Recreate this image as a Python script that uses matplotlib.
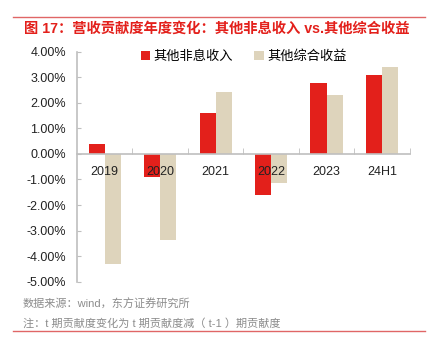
import matplotlib
matplotlib.use("Agg")
import matplotlib.pyplot as plt
from matplotlib.lines import Line2D
from matplotlib.ticker import FuncFormatter, FixedLocator

plt.rcParams['font.family'] = ['Liberation Sans', 'Noto Sans CJK SC', 'DejaVu Sans']

categories = ['2019', '2020', '2021', '2022', '2023', '24H1']
non_interest = [0.40, -0.90, 1.61, -1.61, 2.78, 3.07]
other_comp = [-4.30, -3.36, 2.43, -1.13, 2.30, 3.40]
series_names = ['其他非息收入', '其他综合收益']
yticks = [4, 3, 2, 1, 0, -1, -2, -3, -4, -5]

title = '图 17：营收贡献度年度变化：其他非息收入 vs.其他综合收益'
source = '数据来源：wind，东方证券研究所'
note = '注：t 期贡献度变化为 t 期贡献度减（ t-1 ）期贡献度'

RED = '#E3201B'
BEIGE = '#DED4BC'
GRAY = '#BFBFBF'

fig = plt.figure(figsize=(4.3, 3.38), dpi=100)
ax = fig.add_axes([0.179, 0.1666, 0.774, 0.6806])

x = list(range(len(categories)))
w = 0.29
ax.bar([i - w / 2 for i in x], non_interest, width=w, color=RED, label=series_names[0], zorder=2)
ax.bar([i + w / 2 for i in x], other_comp, width=w, color=BEIGE, label=series_names[1], zorder=2)
ax.set_axisbelow(False)

ax.set_xlim(-0.5, 5.5)
ax.set_ylim(-5, 4)
ax.set_yticks(yticks)
ax.yaxis.set_major_formatter(FuncFormatter(lambda v, p: f'{v:.2f}%'))
ax.tick_params(axis='y', direction='in', length=3, color=GRAY, labelsize=9, labelcolor='#222222', pad=8)

ax.spines['top'].set_visible(False)
ax.spines['right'].set_visible(False)
ax.spines['left'].set_color(GRAY)
ax.spines['left'].set_linewidth(1.2)
ax.spines['bottom'].set_position(('data', 0))
ax.spines['bottom'].set_color(GRAY)
ax.spines['bottom'].set_linewidth(1.2)

ax.set_xticks(x)
ax.set_xticklabels(categories)
ax.xaxis.set_minor_locator(FixedLocator([i + 0.5 for i in x]))
ax.tick_params(axis='x', which='major', length=0, labelsize=9, labelcolor='#222222', pad=9)
ax.tick_params(axis='x', which='minor', direction='in', length=4, color=GRAY)

leg = ax.legend(loc='center', bbox_to_anchor=(0.567, 0.832), bbox_transform=fig.transFigure,
                ncol=2, frameon=False, fontsize=9.5, handlelength=0.7, handleheight=0.7,
                handletextpad=0.3, columnspacing=1.6)

fig.add_artist(Line2D([0.030, 0.988], [1 - 17 / 338, 1 - 17 / 338], color='#E06666', lw=1.0))
fig.text(0.056, 1 - 29 / 338, title, color=RED, fontsize=10.3, fontweight='bold', va='center', ha='left')
fig.text(0.053, 1 - 304 / 338, source, color='#8C8C8C', fontsize=8, va='center', ha='left')
fig.text(0.053, 1 - 323 / 338, note, color='#8C8C8C', fontsize=8, va='center', ha='left')
fig.add_artist(Line2D([0.030, 0.988], [1 - 331 / 338, 1 - 331 / 338], color='#E06666', lw=1.0))

fig.savefig('out.png', dpi=100)
